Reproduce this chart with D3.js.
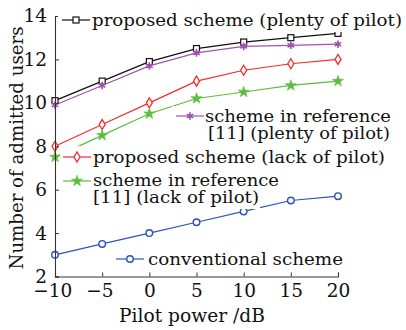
<!DOCTYPE html>
<html>
<head>
<meta charset="utf-8">
<script src="https://cdn.jsdelivr.net/npm/d3@7"></script>
<style>
  html, body { margin: 0; padding: 0; background: #fff; }
  svg { display: block; }
  text { font-family: "DejaVu Serif", serif; fill: #111; }
</style>
</head>
<body>
<svg id="chart" width="406" height="330"></svg>
<script>
// Pilot power (dB) on the x axis
const pilotPower = [-10, -5, 0, 5, 10, 15, 20];

// Admitted users for each scheme
const proposedPlenty = [10.1, 11.0, 11.9, 12.5, 12.8, 13.0, 13.2];
const refPlenty      = [9.9, 10.8, 11.7, 12.3, 12.6, 12.65, 12.7];
const proposedLack   = [8.0, 9.0, 10.0, 11.0, 11.5, 11.8, 12.0];
const refLack        = [7.5, 8.5, 9.5, 10.2, 10.5, 10.8, 11.0];
const conventional   = [3.0, 3.5, 4.0, 4.5, 5.0, 5.5, 5.7];

const xTicks = [-10, -5, 0, 5, 10, 15, 20];
const yTicks = [2, 4, 6, 8, 10, 12, 14];

const seriesNames = [
  ["proposed scheme (plenty of pilot)"],
  ["scheme in reference", "[11] (plenty of pilot)"],
  ["proposed scheme (lack of pilot)"],
  ["scheme in reference", "[11] (lack of pilot)"],
  ["conventional scheme"]
];

const svg = d3.select("#chart");
const x = d3.scaleLinear().domain([-10, 20]).range([55, 338]);
const y = d3.scaleLinear().domain([2, 14]).range([276.5, 16]);

// Marker shapes
const diamondPath = "M0,-5L3,0L0,5L-3,0Z";
const series = [
  { values: proposedPlenty, color: "#111111", marker: "square" },
  { values: refPlenty,      color: "#a052b0", marker: "asterisk" },
  { values: proposedLack,   color: "#f52b2b", marker: "diamond" },
  { values: refLack,        color: "#5cbd3c", marker: "star" },
  { values: conventional,   color: "#2d55b8", marker: "circle" }
];

function drawMarker(g, s) {
  if (s.marker === "square") {
    g.append("rect").attr("x", -3).attr("y", -3).attr("width", 6).attr("height", 6)
      .attr("fill", "#fff").attr("stroke", s.color).attr("stroke-width", 1.2);
  } else if (s.marker === "asterisk") {
    g.append("path").attr("d", d3.symbol(d3.symbolAsterisk, 40)())
      .attr("fill", "none").attr("stroke", s.color).attr("stroke-width", 1.6);
    g.append("circle").attr("r", 2).attr("fill", s.color);
  } else if (s.marker === "diamond") {
    g.append("path").attr("d", diamondPath)
      .attr("fill", "#fff").attr("stroke", s.color).attr("stroke-width", 1.3);
  } else if (s.marker === "star") {
    g.append("path").attr("d", d3.symbol(d3.symbolStar, 38)())
      .attr("fill", s.color).attr("stroke", s.color).attr("stroke-width", 0.6);
  } else {
    g.append("circle").attr("r", 3.3)
      .attr("fill", "#fff").attr("stroke", s.color).attr("stroke-width", 1.4);
  }
}

const line = d3.line().x((d, i) => x(pilotPower[i])).y(d => y(d));

// Data lines and markers
series.forEach(s => {
  svg.append("path").datum(s.values).attr("d", line)
    .attr("fill", "none").attr("stroke", s.color).attr("stroke-width", 1.2);
  s.values.forEach((v, i) => {
    const g = svg.append("g").attr("transform", `translate(${x(pilotPower[i])},${y(v)})`);
    drawMarker(g, s);
  });
});

// Axes: left and bottom spines with inward ticks
const xAxis = d3.axisBottom(x).tickValues(xTicks).tickSize(-4).tickPadding(12)
  .tickFormat(d => d < 0 ? "\u2212" + Math.abs(d) : d);
const gx = svg.append("g").attr("transform", `translate(0,${y(2)})`).call(xAxis);
const yAxis = d3.axisLeft(y).tickValues(yTicks).tickSize(-4).tickPadding(8);
const gy = svg.append("g").attr("transform", `translate(${x(-10)},0)`).call(yAxis);
[gx, gy].forEach(g => {
  g.select(".domain").attr("stroke", "#333").attr("stroke-width", 1.1);
  g.selectAll(".tick line").attr("stroke", "#333");
  g.selectAll("text").attr("font-family", "DejaVu Serif").attr("font-size", 18.5).attr("fill", "#111");
});
gx.selectAll("text").attr("dy", "0.45em");
gx.selectAll("text").filter(d => d < 0).attr("dx", "-0.15em");

// Axis titles
svg.append("text").attr("x", 192).attr("y", 322).attr("text-anchor", "middle")
  .attr("font-size", 18).attr("textLength", 146).attr("lengthAdjust", "spacingAndGlyphs")
  .text("Pilot power /dB");
svg.append("text").attr("transform", "translate(23,148) rotate(-90)")
  .attr("text-anchor", "middle").attr("font-size", 18)
  .attr("textLength", 243).attr("lengthAdjust", "spacingAndGlyphs")
  .text("Number of admitted users");

// Legend entries, each placed beside its own curve
const legendPos = [
  { lx: 62,  ly: 20,  tx: 92,  ty: 26,  box: [58, 12, 345, 20],  w: [310] },
  { lx: 176, ly: 116, tx: 205, ty: 122, box: [172, 106, 222, 40], w: [186, 182] },
  { lx: 63,  ly: 157, tx: 93,  ty: 163, box: [60, 146, 328, 22], w: [292] },
  { lx: 63,  ly: 181, tx: 93,  ty: 186, box: [60, 169, 200, 40], w: [186, 166] },
  { lx: 116, ly: 259, tx: 148, ty: 265, box: [112, 248, 234, 24], w: [195] }
];

legendPos.forEach((p, k) => {
  const s = series[k];
  svg.append("rect").attr("x", p.box[0]).attr("y", p.box[1])
    .attr("width", p.box[2]).attr("height", p.box[3]).attr("fill", "#fff");
  svg.append("line").attr("x1", p.lx).attr("x2", p.lx + 28)
    .attr("y1", p.ly).attr("y2", p.ly).attr("stroke", s.color).attr("stroke-width", 1.2);
  drawMarker(svg.append("g").attr("transform", `translate(${p.lx + 14},${p.ly})`), s);
  seriesNames[k].forEach((t, j) => {
    svg.append("text").attr("x", p.tx + (j > 0 && k === 1 ? 3 : 0)).attr("y", p.ty + j * 17)
      .attr("font-size", 17.5).attr("textLength", p.w[j]).attr("lengthAdjust", "spacingAndGlyphs")
      .text(t);
  });
});
</script>
</body>
</html>
